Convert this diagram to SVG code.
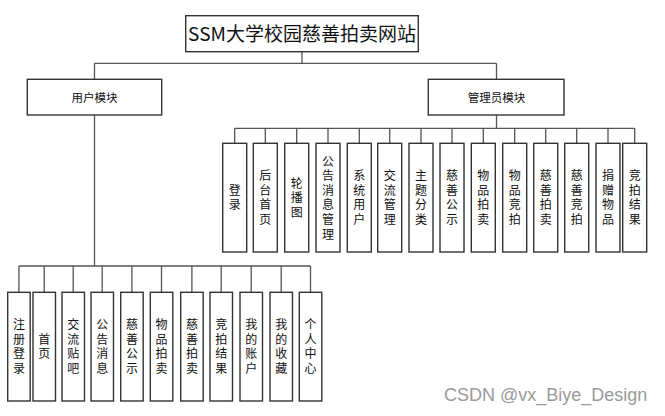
<svg xmlns="http://www.w3.org/2000/svg" width="665" height="416" viewBox="0 0 665 416">
<style>
.box{fill:#fff;stroke:#333;stroke-width:1.4}
.conn{fill:none;stroke:#555;stroke-width:1.3}
.t{font-family:"Noto Sans CJK SC","Noto Sans",sans-serif;fill:#111;text-anchor:middle}
.v{font-family:"Noto Sans CJK SC","Noto Sans",sans-serif;fill:#111;text-anchor:middle;font-size:12px;writing-mode:vertical-rl;letter-spacing:2.6px}
.m{font-size:11.5px}
.title{font-size:19px}
.wm{font-family:"Liberation Sans",Arial,sans-serif;font-size:18px;fill:#9a9a9a}
</style>
<rect width="665" height="416" fill="#fff"/>
<g id="connectors" class="conn">
<path d="M302,51.7V63.3M94.5,63.3H496.5M94.5,63.3V79.3M496.5,63.3V79.3"/>
<path d="M94.5,115V266M18.9,266H310.5"/>
<path d="M18.9,266V292.3M44.2,266V292.3M73.2,266V292.3M102.2,266V292.3M131.9,266V292.3M161.5,266V292.3M191.9,266V292.3M221.2,266V292.3M251.2,266V292.3M281.2,266V292.3M310.5,266V292.3"/>
<path d="M496.5,115V128.3M234.7,128.3H634.7"/>
<path d="M234.7,128.3V143.3M265.3,128.3V143.3M296.7,128.3V143.3M328,128.3V143.3M359.3,128.3V143.3M389.7,128.3V143.3M421,128.3V143.3M452,128.3V143.3M483.3,128.3V143.3M514.7,128.3V143.3M545.7,128.3V143.3M576.7,128.3V143.3M608,128.3V143.3M634.7,128.3V143.3"/>
</g>
<g id="root"><rect class="box" x="185.7" y="15.7" width="232.6" height="36"/><text class="t title" x="302" y="40.5">SSM大学校园慈善拍卖网站</text></g>
<g id="user"><rect class="box" x="27.3" y="79.3" width="134.4" height="35.7"/><text class="t m" x="94.5" y="101.5">用户模块</text></g>
<g id="admin"><rect class="box" x="428.3" y="79.3" width="135.7" height="35.7"/><text class="t m" x="496.5" y="101.5">管理员模块</text></g>

<g id="a1"><rect class="box" x="222.7" y="143.3" width="24" height="108.7"/><text class="v" x="234.7" y="198.9">登录</text></g>
<g id="a2"><rect class="box" x="253.3" y="143.3" width="24" height="108.7"/><text class="v" x="265.3" y="198.9">后台首页</text></g>
<g id="a3"><rect class="box" x="284.7" y="143.3" width="24" height="108.7"/><text class="v" x="296.7" y="198.9">轮播图</text></g>
<g id="a4"><rect class="box" x="316" y="143.3" width="24" height="108.7"/><text class="v" x="328" y="198.9">公告消息管理</text></g>
<g id="a5"><rect class="box" x="347.3" y="143.3" width="24" height="108.7"/><text class="v" x="359.3" y="198.9">系统用户</text></g>
<g id="a6"><rect class="box" x="377.7" y="143.3" width="24" height="108.7"/><text class="v" x="389.7" y="198.9">交流管理</text></g>
<g id="a7"><rect class="box" x="409" y="143.3" width="24" height="108.7"/><text class="v" x="421" y="198.9">主题分类</text></g>
<g id="a8"><rect class="box" x="440" y="143.3" width="24" height="108.7"/><text class="v" x="452" y="198.9">慈善公示</text></g>
<g id="a9"><rect class="box" x="471.3" y="143.3" width="24" height="108.7"/><text class="v" x="483.3" y="198.9">物品拍卖</text></g>
<g id="a10"><rect class="box" x="502.7" y="143.3" width="24" height="108.7"/><text class="v" x="514.7" y="198.9">物品竞拍</text></g>
<g id="a11"><rect class="box" x="533.7" y="143.3" width="24" height="108.7"/><text class="v" x="545.7" y="198.9">慈善拍卖</text></g>
<g id="a12"><rect class="box" x="564.7" y="143.3" width="24" height="108.7"/><text class="v" x="576.7" y="198.9">慈善竞拍</text></g>
<g id="a13"><rect class="box" x="596" y="143.3" width="24" height="108.7"/><text class="v" x="608" y="198.9">捐赠物品</text></g>
<g id="a14"><rect class="box" x="622.7" y="143.3" width="24" height="108.7"/><text class="v" x="634.7" y="198.9">竞拍结果</text></g>

<g id="u1"><rect class="box" x="7.7" y="292.3" width="22.5" height="108.7"/><text class="v" x="18.9" y="347.9">注册登录</text></g>
<g id="u2"><rect class="box" x="33" y="292.3" width="22.5" height="108.7"/><text class="v" x="44.2" y="347.9">首页</text></g>
<g id="u3"><rect class="box" x="62" y="292.3" width="22.5" height="108.7"/><text class="v" x="73.2" y="347.9">交流贴吧</text></g>
<g id="u4"><rect class="box" x="91" y="292.3" width="22.5" height="108.7"/><text class="v" x="102.2" y="347.9">公告消息</text></g>
<g id="u5"><rect class="box" x="120.7" y="292.3" width="22.5" height="108.7"/><text class="v" x="131.9" y="347.9">慈善公示</text></g>
<g id="u6"><rect class="box" x="150.3" y="292.3" width="22.5" height="108.7"/><text class="v" x="161.5" y="347.9">物品拍卖</text></g>
<g id="u7"><rect class="box" x="180.7" y="292.3" width="22.5" height="108.7"/><text class="v" x="191.9" y="347.9">慈善拍卖</text></g>
<g id="u8"><rect class="box" x="210" y="292.3" width="22.5" height="108.7"/><text class="v" x="221.2" y="347.9">竞拍结果</text></g>
<g id="u9"><rect class="box" x="240" y="292.3" width="22.5" height="108.7"/><text class="v" x="251.2" y="347.9">我的账户</text></g>
<g id="u10"><rect class="box" x="270" y="292.3" width="22.5" height="108.7"/><text class="v" x="281.2" y="347.9">我的收藏</text></g>
<g id="u11"><rect class="box" x="299.3" y="292.3" width="22.5" height="108.7"/><text class="v" x="310.5" y="347.9">个人中心</text></g>

<text class="wm" x="444" y="401">CSDN @vx_Biye_Design</text>
</svg>
